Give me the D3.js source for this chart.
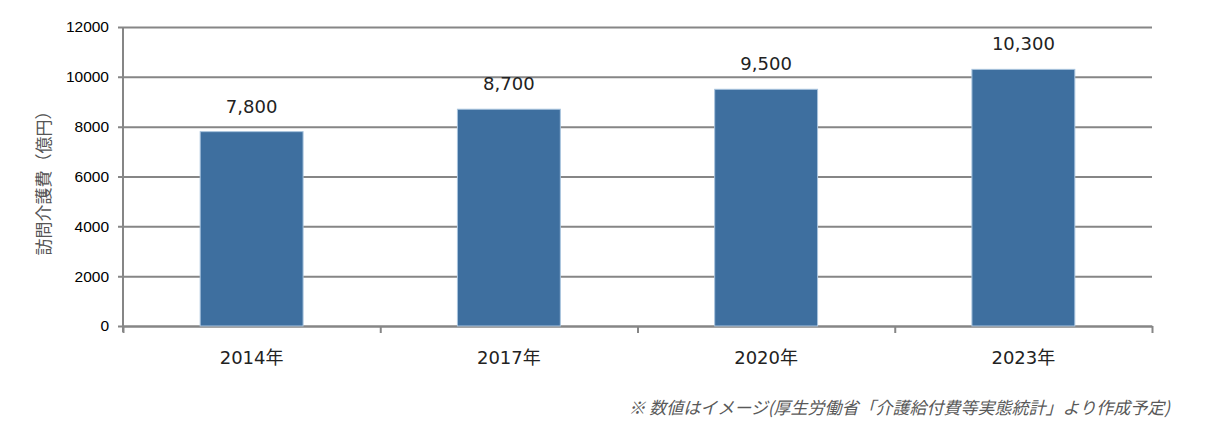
<!DOCTYPE html>
<html>
<head>
<meta charset="utf-8">
<script src="https://cdn.jsdelivr.net/npm/d3@7"></script>
<style>
  body { margin: 0; background: #fff; }
  svg { display: block; }
</style>
</head>
<body>
<div id="chart"></div>
<script>
// data
const years = ["2014年", "2017年", "2020年", "2023年"];
const costs = [7800, 8700, 9500, 10300];
const yTicks = [0, 2000, 4000, 6000, 8000, 10000, 12000];

const width = 1205, height = 423;
const margin = {top: 27, right: 53, bottom: 97, left: 123};

const svg = d3.select("#chart").append("svg")
    .attr("width", width)
    .attr("height", height);

const x = d3.scaleBand()
    .domain(years)
    .range([margin.left, width - margin.right])
    .paddingInner(0.6)
    .paddingOuter(0.3);

const y = d3.scaleLinear()
    .domain([0, 12000])
    .range([height - margin.bottom, margin.top]);

const gray = "#868686";

// gridlines + y axis
svg.append("g")
    .attr("transform", `translate(${margin.left},0)`)
    .call(d3.axisLeft(y).tickValues(yTicks).tickSize(-(width - margin.left - margin.right)).tickSizeOuter(0).tickPadding(14).tickFormat(d3.format("d")))
    .call(g => g.select(".domain").remove())
    .call(g => g.selectAll(".tick line").attr("stroke", gray).attr("stroke-width", 2).attr("x1", -5))
    .call(g => g.selectAll(".tick text")
        .attr("fill", "#000")
        .attr("font-family", "Arial, 'Liberation Sans', sans-serif")
        .attr("font-size", 15.5));

// left axis line
svg.append("line")
    .attr("x1", margin.left).attr("x2", margin.left)
    .attr("y1", margin.top).attr("y2", y(0) + 6)
    .attr("stroke", gray).attr("stroke-width", 2);

// bottom axis, ticks on the category boundaries
svg.append("g")
    .attr("transform", `translate(0,${y(0)})`)
    .call(d3.axisBottom(d3.scaleLinear().domain([0, years.length]).range([margin.left, width - margin.right]))
        .ticks(years.length).tickSize(7).tickSizeOuter(0).tickFormat(""))
    .call(g => g.select(".domain").attr("stroke", gray).attr("stroke-width", 2))
    .call(g => g.selectAll(".tick line").attr("stroke", gray).attr("stroke-width", 2));

// bars
svg.append("g")
  .selectAll("rect")
  .data(costs)
  .join("rect")
    .attr("x", (d, i) => x(years[i]))
    .attr("y", d => y(d))
    .attr("width", x.bandwidth())
    .attr("height", d => y(0) - y(d))
    .attr("fill", "#3e6f9f")
    .attr("stroke", "#a9c4de")
    .attr("stroke-width", 1);

// value labels
svg.append("g")
  .selectAll("text")
  .data(costs)
  .join("text")
    .attr("x", (d, i) => x(years[i]) + x.bandwidth() / 2)
    .attr("y", d => y(d) - 19)
    .attr("text-anchor", "middle")
    .attr("font-family", "'DejaVu Sans', Verdana, sans-serif")
    .attr("font-size", 18)
    .attr("fill", "#222")
    .text(d => d3.format(",")(d));

// category labels
svg.append("g")
  .selectAll("text")
  .data(years)
  .join("text")
    .attr("x", d => x(d) + x.bandwidth() / 2)
    .attr("y", 364)
    .attr("text-anchor", "middle")
    .attr("font-family", "'DejaVu Sans', 'Noto Sans CJK JP', sans-serif")
    .attr("font-size", 18)
    .attr("fill", "#222")
    .text(d => d);

// y axis title
svg.append("text")
    .attr("transform", "translate(50,179) rotate(-90)")
    .attr("text-anchor", "middle")
    .attr("font-family", "'Noto Sans CJK JP', sans-serif")
    .attr("font-size", 17)
    .attr("fill", "#555")
    .text("訪問介護費（億円）");

// footnote
svg.append("text")
    .attr("x", 1170)
    .attr("y", 414)
    .attr("text-anchor", "end")
    .attr("font-family", "'Noto Sans CJK JP', sans-serif")
    .attr("font-size", 17)
    .attr("font-style", "italic")
    .attr("fill", "#595959")
    .text("※ 数値はイメージ(厚生労働省「介護給付費等実態統計」より作成予定)");
</script>
</body>
</html>
